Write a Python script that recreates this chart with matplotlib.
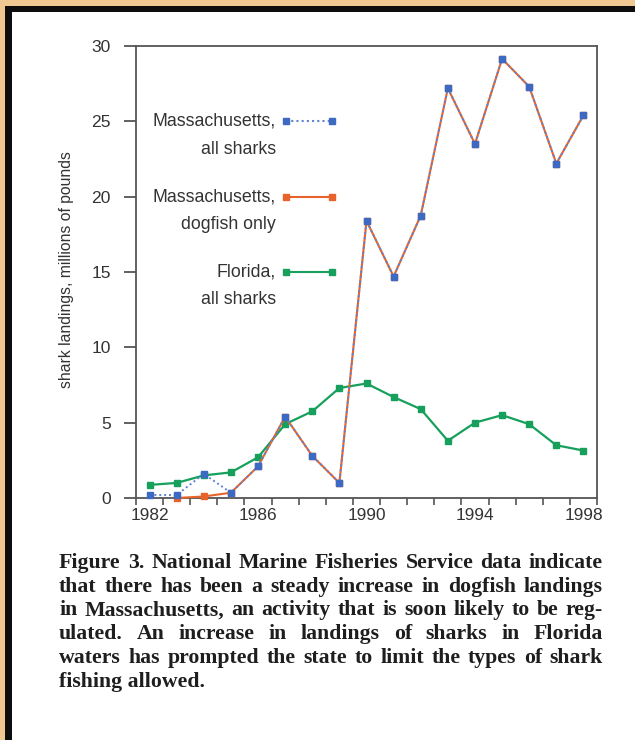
import matplotlib
matplotlib.use("Agg")
import matplotlib.pyplot as plt
import numpy as np
from matplotlib.patches import Rectangle

# ---------------- data ----------------
years = list(range(1982, 1999))
ma_all_sharks = [0.2, 0.2, 1.6, 0.35, 2.1, 5.4, 2.8, 1.0, 18.4, 14.7, 18.75,
                 27.2, 23.5, 29.15, 27.3, 22.2, 25.4]
ma_dogfish = [np.nan, 0.0, 0.1, 0.35, 2.1, 5.4, 2.8, 1.0, 18.4, 14.7, 18.75,
              27.2, 23.5, 29.15, 27.3, 22.2, 25.4]
florida_all = [0.87, 1.0, 1.5, 1.7, 2.7, 4.9, 5.75, 7.3, 7.6, 6.7, 5.9,
               3.8, 5.0, 5.5, 4.9, 3.5, 3.15]
y_ticks = [0, 5, 10, 15, 20, 25, 30]
x_label_years = [1982, 1986, 1990, 1994, 1998]
legend_first = ["Massachusetts,", "Massachusetts,", "Florida,"]
legend_second = ["all sharks", "dogfish only", "all sharks"]
legend_levels = [25, 20, 15]
y_label = "shark landings, millions of pounds"
caption_lines = [
    "Figure 3. National Marine Fisheries Service data indicate",
    "that there has been a steady increase in dogfish landings",
    "in Massachusetts, an activity that is soon likely to be reg-",
    "ulated. An increase in landings of sharks in Florida",
    "waters has prompted the state to limit the types of shark",
    "fishing allowed.",
]

# ---------------- style ----------------
W, H = 635, 740
BLUE = "#3c69c2"
BLUE_LINE = "#5d84d2"
ORANGE = "#e8632b"
GREEN = "#16a05c"
GOLD = "#F0C891"
AX_COL = "#555555"
TXT = "#333333"
SANS = ["Liberation Sans", "DejaVu Sans"]
SERIF = ["Liberation Serif", "DejaVu Serif"]

plt.rcParams["font.family"] = SANS

fig = plt.figure(figsize=(W / 100, H / 100), dpi=100)
fig.patch.set_facecolor("white")


def fx(px):
    return px / W


def fy(py):
    return 1 - py / H


# borders (gold outer, black inner) on top and left
fig.patches.append(Rectangle((0, 0), fx(5), 1, transform=fig.transFigure,
                             facecolor=GOLD, edgecolor="none", zorder=0))
fig.patches.append(Rectangle((0, fy(6)), 1, 6 / H, transform=fig.transFigure,
                             facecolor=GOLD, edgecolor="none", zorder=0))
fig.patches.append(Rectangle((fx(5), 0), 7 / W, fy(6), transform=fig.transFigure,
                             facecolor="#0d0d0d", edgecolor="none", zorder=0))
fig.patches.append(Rectangle((fx(5), fy(12)), 1, 6 / H, transform=fig.transFigure,
                             facecolor="#0d0d0d", edgecolor="none", zorder=0))

# ---------------- axes ----------------
ax = fig.add_axes([fx(136), fy(498), (597 - 136) / W, (498 - 46) / H])
ax.set_facecolor("white")
x = np.array(years) + 0.5

ax.plot(x, florida_all, color=GREEN, lw=1.6, marker="s", ms=4.5,
        mec=GREEN, mfc=GREEN, zorder=3, clip_on=False)
ax.plot(x, ma_dogfish, color=ORANGE, lw=1.5, marker="s", ms=4.5,
        mec=ORANGE, mfc=ORANGE, zorder=4, clip_on=False)
ax.plot(x, ma_all_sharks, color=BLUE_LINE, lw=1.4, ls=(0, (1, 1.5)),
        marker="s", ms=4.5, mec=BLUE, mfc=BLUE, zorder=5, clip_on=False)

ax.set_xlim(years[0], years[-1] + 1)
ax.set_ylim(0, 30)

for sp in ax.spines.values():
    sp.set_color(AX_COL)
    sp.set_linewidth(1.3)

ax.set_yticks(y_ticks)
ax.set_yticklabels([str(v) for v in y_ticks])
ax.tick_params(axis="y", direction="out", length=9, width=1.3, color=AX_COL,
               pad=9, labelsize=12.6, labelcolor=TXT)

ax.set_xticks(list(range(years[0], years[-1] + 2)))
ax.set_xticklabels([])
ax.set_xticks([yv + 0.5 for yv in x_label_years], minor=True)
ax.set_xticklabels([str(yv) for yv in x_label_years], minor=True)
ax.tick_params(axis="x", which="major", direction="out", length=5, width=1.2,
               color=AX_COL)
ax.tick_params(axis="x", which="minor", length=0, pad=7.5, labelsize=12.4,
               labelcolor=TXT)

# legend drawn inside the plot
ytr = ax.get_yaxis_transform()
styles = [
    dict(color=BLUE_LINE, ls=(0, (1, 1.5)), mfc=BLUE, mec=BLUE),
    dict(color=ORANGE, ls="-", mfc=ORANGE, mec=ORANGE),
    dict(color=GREEN, ls="-", mfc=GREEN, mec=GREEN),
]
for first, second, lev, st in zip(legend_first, legend_second, legend_levels, styles):
    ax.text(0.304, lev, first, transform=ytr, ha="right", va="center",
            fontsize=12.8, color=TXT)
    ax.text(0.304, lev - 1.85, second, transform=ytr, ha="right", va="center",
            fontsize=12.8, color=TXT)
    ax.plot([0.325, 0.425], [lev, lev], transform=ytr, lw=1.5, marker="s",
            ms=4.5, **st)

fig.text(fx(66), fy(270), y_label, rotation=90, ha="center", va="center",
         fontsize=11.3, color=TXT)

# ---------------- caption (justified) ----------------
renderer = fig.canvas.get_renderer()
left_px, right_px = 59, 603
base0, step = 568, 23.7
cap_weight = "bold"

# pick a size so that the first line's natural width nearly fills the column
probe = fig.text(0, 0, caption_lines[0], fontsize=10, family=SERIF,
                 fontweight=cap_weight)
w10 = probe.get_window_extent(renderer).width
probe.remove()
cap_fs = 10 * 532 / w10

for i, line in enumerate(caption_lines):
    by = fy(base0 + i * step)
    words = line.split(" ")
    if i == len(caption_lines) - 1:
        fig.text(fx(left_px), by, line, ha="left", va="baseline",
                 fontsize=cap_fs, family=SERIF, fontweight=cap_weight,
                 color="#1e1e1e")
        continue
    widths = []
    for w in words:
        t = fig.text(0, 0, w, fontsize=cap_fs, family=SERIF,
                     fontweight=cap_weight)
        widths.append(t.get_window_extent(renderer).width)
        t.remove()
    gap = (right_px - left_px - sum(widths)) / (len(words) - 1)
    xp = left_px
    for w, wd in zip(words, widths):
        fig.text(fx(xp), by, w, ha="left", va="baseline", fontsize=cap_fs,
                 family=SERIF, fontweight=cap_weight, color="#1e1e1e")
        xp += wd + gap

fig.savefig("out.png", dpi=100)
